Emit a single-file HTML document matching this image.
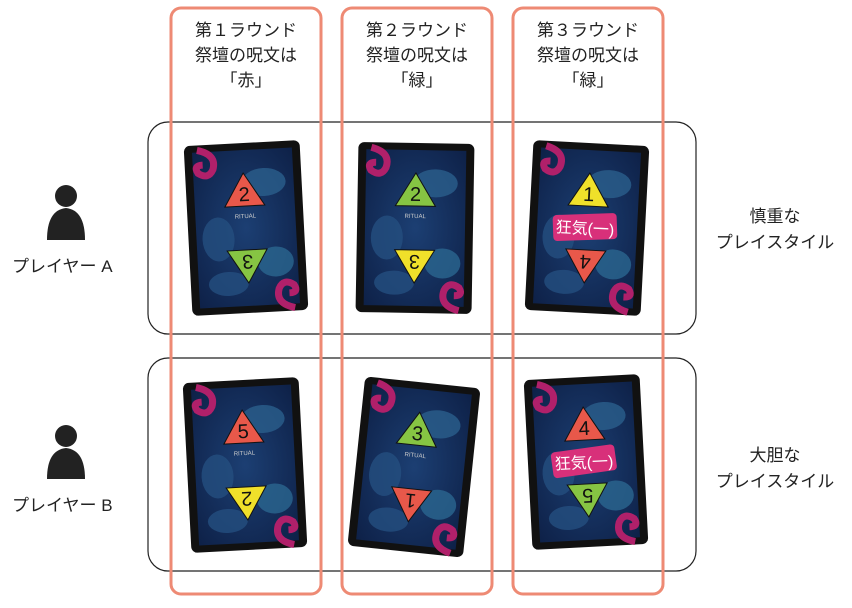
<!DOCTYPE html>
<html><head><meta charset="utf-8"><style>
body{margin:0;background:#fff}
svg{display:block}
text{font-family:"Liberation Sans","Noto Sans CJK JP",sans-serif}
</style></head><body>
<svg width="852" height="608" viewBox="0 0 852 608" xmlns="http://www.w3.org/2000/svg">
<defs>
<radialGradient id="bg" cx="50%" cy="50%" r="70%"><stop offset="0" stop-color="#1c3f73"/><stop offset="1" stop-color="#0e2148"/></radialGradient>
<g id="card">
<rect x="-58" y="-85" width="116" height="170" rx="6" fill="#111"/>
<rect x="-50" y="-78" width="100" height="156" fill="url(#bg)"/>
<ellipse cx="20" cy="-45" rx="22" ry="14" fill="#2a5f8c" opacity="0.8"/>
<ellipse cx="-28" cy="10" rx="16" ry="22" fill="#244f80" opacity="0.8"/>
<ellipse cx="28" cy="35" rx="18" ry="15" fill="#2b6690" opacity="0.8"/>
<ellipse cx="-20" cy="55" rx="20" ry="12" fill="#244f80" opacity="0.8"/>
<path d="M-45,-80 q20,5 15,20 q-5,10 -15,3 q-5,-8 5,-8" stroke="#b0206a" stroke-width="7" fill="none"/>
<path d="M45,82 q-20,-5 -15,-20 q5,-10 15,-3 q5,8 -5,8" stroke="#b0206a" stroke-width="7" fill="none"/>
</g>
</defs>

<rect x="148" y="122" width="548" height="212" rx="20" fill="none" stroke="#222" stroke-width="1.2"/>
<rect x="148" y="358" width="548" height="213" rx="20" fill="none" stroke="#222" stroke-width="1.2"/>

<g transform="translate(246,228) rotate(-3)"><use href="#card"/>
<polygon points="0,-55 -20,-22 20,-22" fill="#e8584a" stroke="#111"/><text x="0" y="-27" font-size="20" text-anchor="middle" fill="#111">2</text>
<text x="0" y="-10" font-size="6" text-anchor="middle" fill="#ccc">RITUAL</text>
<polygon points="0,55 -20,22 20,22" fill="#86c443" stroke="#111"/><text x="0" y="7" font-size="20" text-anchor="middle" fill="#111" transform="translate(0,34) rotate(180)">3</text></g>

<g transform="translate(415,228) rotate(1)"><use href="#card"/>
<polygon points="0,-55 -20,-22 20,-22" fill="#86c443" stroke="#111"/><text x="0" y="-27" font-size="20" text-anchor="middle" fill="#111">2</text>
<text x="0" y="-10" font-size="6" text-anchor="middle" fill="#ccc">RITUAL</text>
<polygon points="0,55 -20,22 20,22" fill="#f0e02a" stroke="#111"/><text x="0" y="7" font-size="20" text-anchor="middle" fill="#111" transform="translate(0,34) rotate(180)">3</text></g>

<g transform="translate(587,228) rotate(3)"><use href="#card"/>
<polygon points="0,-55 -20,-22 20,-22" fill="#f0e02a" stroke="#111"/><text x="0" y="-27" font-size="20" text-anchor="middle" fill="#111">1</text>
<polygon points="0,55 -20,22 20,22" fill="#e8584a" stroke="#111"/><text x="0" y="7" font-size="20" text-anchor="middle" fill="#111" transform="translate(0,34) rotate(180)">4</text>
<rect x="-34" y="-14" width="64" height="26" rx="4" fill="#d8307a" transform="rotate(-5)"/><text x="-2" y="6" font-size="16" text-anchor="middle" fill="#fff">狂気(一)</text></g>

<g transform="translate(245,465) rotate(-3)"><use href="#card"/>
<polygon points="0,-55 -20,-22 20,-22" fill="#e8584a" stroke="#111"/><text x="0" y="-27" font-size="20" text-anchor="middle" fill="#111">5</text>
<text x="0" y="-10" font-size="6" text-anchor="middle" fill="#ccc">RITUAL</text>
<polygon points="0,55 -20,22 20,22" fill="#f0e02a" stroke="#111"/><text x="0" y="7" font-size="20" text-anchor="middle" fill="#111" transform="translate(0,34) rotate(180)">2</text></g>

<g transform="translate(414,467) rotate(6)"><use href="#card"/>
<polygon points="0,-55 -20,-22 20,-22" fill="#86c443" stroke="#111"/><text x="0" y="-27" font-size="20" text-anchor="middle" fill="#111">3</text>
<text x="0" y="-10" font-size="6" text-anchor="middle" fill="#ccc">RITUAL</text>
<polygon points="0,55 -20,22 20,22" fill="#e8584a" stroke="#111"/><text x="0" y="7" font-size="20" text-anchor="middle" fill="#111" transform="translate(0,34) rotate(180)">1</text></g>

<g transform="translate(586,462) rotate(-3)"><use href="#card"/>
<polygon points="0,-55 -20,-22 20,-22" fill="#e8584a" stroke="#111"/><text x="0" y="-27" font-size="20" text-anchor="middle" fill="#111">4</text>
<polygon points="0,55 -20,22 20,22" fill="#86c443" stroke="#111"/><text x="0" y="7" font-size="20" text-anchor="middle" fill="#111" transform="translate(0,34) rotate(180)">5</text>
<rect x="-34" y="-14" width="64" height="26" rx="4" fill="#d8307a" transform="rotate(-5)"/><text x="-2" y="6" font-size="16" text-anchor="middle" fill="#fff">狂気(一)</text></g>

<g fill="none" stroke="#ee8a74" stroke-width="3">
<rect x="171" y="8" width="150" height="586" rx="10"/>
<rect x="342" y="8" width="150" height="586" rx="10"/>
<rect x="513" y="8" width="150" height="586" rx="10"/>
</g>
<g font-size="17" text-anchor="middle" fill="#222">
<text x="246" y="36">第１ラウンド</text><text x="246" y="61">祭壇の呪文は</text><text x="246" y="86">「赤」</text>
<text x="417" y="36">第２ラウンド</text><text x="417" y="61">祭壇の呪文は</text><text x="417" y="86">「緑」</text>
<text x="588" y="36">第３ラウンド</text><text x="588" y="61">祭壇の呪文は</text><text x="588" y="86">「緑」</text>
</g>

<g fill="#222">
<circle cx="66" cy="196" r="11"/><path d="M47,240 Q47,210 66,208 Q85,210 85,240 Z"/>
<circle cx="66" cy="436" r="11"/><path d="M47,479 Q47,450 66,448 Q85,450 85,479 Z"/>
</g>
<g font-size="17" fill="#222">
<text x="12" y="272">プレイヤー A</text>
<text x="12" y="511">プレイヤー B</text>
<text x="775" y="222" text-anchor="middle">慎重な</text><text x="775" y="248" text-anchor="middle">プレイスタイル</text>
<text x="775" y="461" text-anchor="middle">大胆な</text><text x="775" y="487" text-anchor="middle">プレイスタイル</text>
</g>
</svg>
</body></html>
